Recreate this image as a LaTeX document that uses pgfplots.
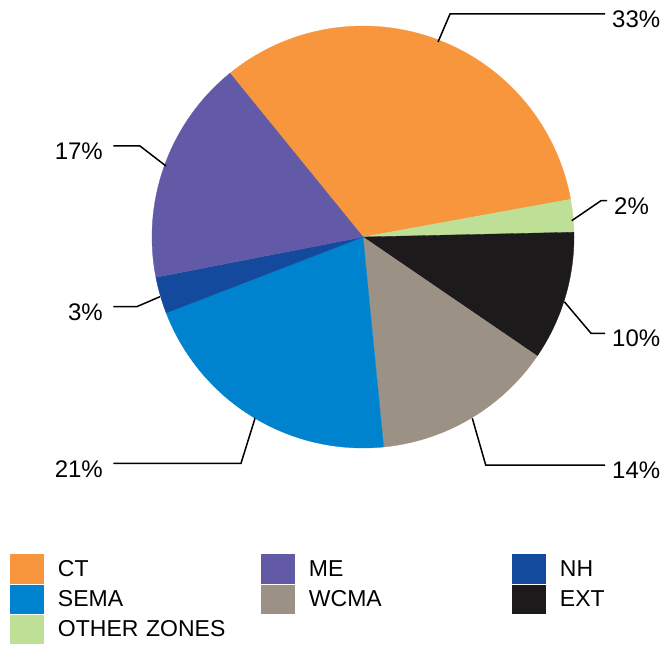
\documentclass[border=0pt]{standalone}
\usepackage{pgfplots}
\pgfplotsset{compat=1.18}
\usepackage{pgfplotstable}
\usepackage{fontspec}
\setmainfont{Liberation Sans}
\definecolor{cCT}{HTML}{F7963D}
\definecolor{cME}{HTML}{625AA6}
\definecolor{cNH}{HTML}{134A9E}
\definecolor{cSEMA}{HTML}{0083CF}
\definecolor{cWCMA}{HTML}{9C9185}
\definecolor{cEXT}{HTML}{1C1A1B}
\definecolor{cOTH}{HTML}{BDE096}

% share of each zone (percent), clockwise from CT
\pgfplotstableread{
zone value
CT 33.0
OTHER 2.5
EXT 9.9
WCMA 13.9
SEMA 20.7
NH 2.8
ME 17.2
}\piedata

\newcommand\slice[3]{%
  \addplot[fill=#1, draw=#1, line width=0.3pt, forget plot, domain=#3:#2, samples=120]
    ({363+211*cos(x)},{412+211*sin(x)}) -- (axis cs:363,412) -- cycle;
}

\begin{document}
\begin{tikzpicture}
\pgfmathsetmacro\angA{129.1}
\pgfplotstablegetelem{0}{value}\of\piedata \pgfmathsetmacro\angB{\angA-3.6*\pgfplotsretval}
\pgfplotstablegetelem{1}{value}\of\piedata \pgfmathsetmacro\angC{\angB-3.6*\pgfplotsretval}
\pgfplotstablegetelem{2}{value}\of\piedata \pgfmathsetmacro\angD{\angC-3.6*\pgfplotsretval}
\pgfplotstablegetelem{3}{value}\of\piedata \pgfmathsetmacro\angE{\angD-3.6*\pgfplotsretval}
\pgfplotstablegetelem{4}{value}\of\piedata \pgfmathsetmacro\angF{\angE-3.6*\pgfplotsretval}
\pgfplotstablegetelem{5}{value}\of\piedata \pgfmathsetmacro\angG{\angF-3.6*\pgfplotsretval}
\pgfplotstablegetelem{6}{value}\of\piedata \pgfmathsetmacro\angH{\angG-3.6*\pgfplotsretval}
\begin{axis}[
  scale only axis, width=671pt, height=649pt,
  xmin=0, xmax=671, ymin=0, ymax=649,
  hide axis, clip=false,
  legend columns=3,
  legend cell align=left,
  legend image code/.code={\path[#1] (0pt,-14.6pt) rectangle (34pt,14.6pt);},
  legend style={at={(axis description cs:0.0149,0.1459)}, anchor=north west,
    draw=none, fill=none, inner sep=0pt, outer sep=0pt, row sep=1.2pt,
    font=\fontsize{23}{26}\selectfont,
    nodes={inner sep=0pt, outer sep=0pt},
    /tikz/every odd column/.append style={column sep=14pt},
    /tikz/column 2/.style={text width=203pt},
    /tikz/column 4/.style={text width=203pt}},
]
\path (axis description cs:0,0) rectangle (axis description cs:1,1);
\slice{cCT}{\angA}{\angB}
\slice{cOTH}{\angB}{\angC}
\slice{cEXT}{\angC}{\angD}
\slice{cWCMA}{\angD}{\angE}
\slice{cSEMA}{\angE}{\angF}
\slice{cNH}{\angF}{\angG}
\slice{cME}{\angG}{\angH}

\addlegendimage{fill=cCT, draw=none}\addlegendentry{CT}
\addlegendimage{fill=cME, draw=none}\addlegendentry{ME}
\addlegendimage{fill=cNH, draw=none}\addlegendentry{NH}
\addlegendimage{fill=cSEMA, draw=none}\addlegendentry{SEMA}
\addlegendimage{fill=cWCMA, draw=none}\addlegendentry{WCMA}
\addlegendimage{fill=cEXT, draw=none}\addlegendentry{EXT}
\addlegendimage{fill=cOTH, draw=none}\addlegendentry{OTHER ZONES}

\begin{scope}[line width=1.5pt, black]
\draw (axis cs:438,607) -- (axis cs:450,635) -- (axis cs:605,635);
\draw (axis cs:571.7,428.3) -- (axis cs:601,448.3) -- (axis cs:607,448.3);
\draw (axis cs:564.3,347.3) -- (axis cs:591,315.7) -- (axis cs:605,315.7);
\draw (axis cs:472.3,230.7) -- (axis cs:485.7,184) -- (axis cs:605,184);
\draw (axis cs:255,230.7) -- (axis cs:241,185.7) -- (axis cs:113.3,185.7);
\draw (axis cs:160,352.3) -- (axis cs:136.7,342.3) -- (axis cs:113.3,342.3);
\draw (axis cs:166,483) -- (axis cs:140,503) -- (axis cs:113.3,503);
\end{scope}
\begin{scope}[every node/.style={inner sep=0pt, font=\fontsize{24}{27}\selectfont}]
\node[anchor=base west] at (axis cs:612,621.5) {33\%};
\node[anchor=base west] at (axis cs:614,435) {2\%};
\node[anchor=base west] at (axis cs:612,303) {10\%};
\node[anchor=base west] at (axis cs:612,171) {14\%};
\node[anchor=base east] at (axis cs:103,172) {21\%};
\node[anchor=base east] at (axis cs:103,329) {3\%};
\node[anchor=base east] at (axis cs:103,489) {17\%};
\end{scope}
\end{axis}
\end{tikzpicture}
\end{document}
